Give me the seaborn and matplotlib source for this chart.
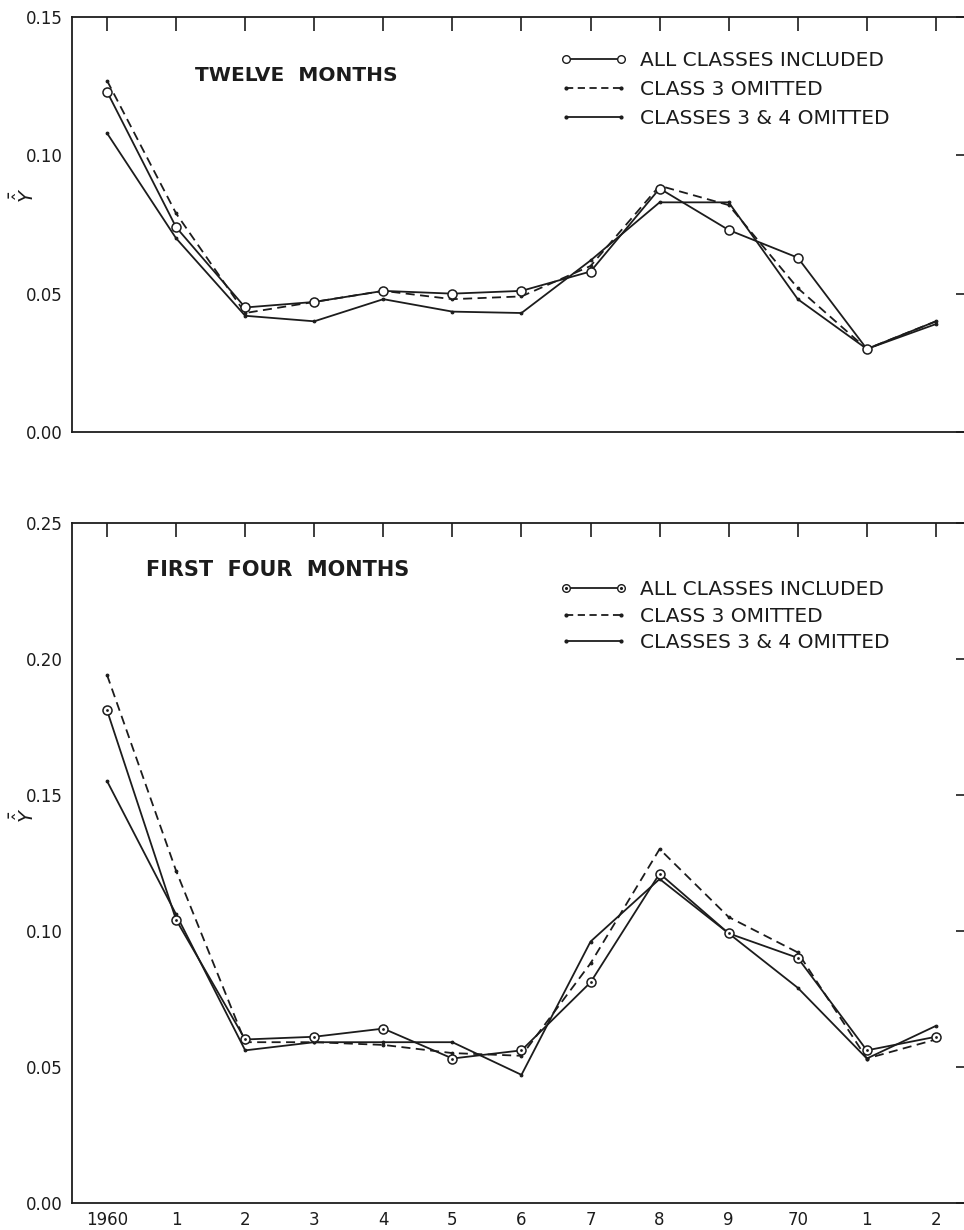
import numpy as np
import pandas as pd
import matplotlib
matplotlib.use("Agg")
import matplotlib.pyplot as plt
import seaborn as sns
from matplotlib.lines import Line2D
from matplotlib.legend_handler import HandlerTuple

# Year labels along the x axis (1960 ... 1972)
year_labels = ["1960", "1", "2", "3", "4", "5", "6", "7", "8", "9", "70", "1", "2"]

# Mean Y-hat, twelve months
twelve_all = [0.123, 0.074, 0.045, 0.047, 0.051, 0.050, 0.051, 0.058, 0.088, 0.073, 0.063, 0.030, 0.040]
twelve_c3 = [0.127, 0.079, 0.043, 0.047, 0.051, 0.048, 0.049, 0.060, 0.089, 0.082, 0.052, 0.030, 0.040]
twelve_c34 = [0.108, 0.070, 0.042, 0.040, 0.048, 0.0435, 0.043, 0.062, 0.083, 0.083, 0.048, 0.030, 0.039]

# Mean Y-hat, first four months
four_all = [0.181, 0.104, 0.060, 0.061, 0.064, 0.053, 0.056, 0.081, 0.121, 0.099, 0.090, 0.056, 0.061]
four_c3 = [0.194, 0.122, 0.059, 0.059, 0.058, 0.055, 0.054, 0.088, 0.130, 0.105, 0.092, 0.053, 0.060]
four_c34 = [0.155, 0.106, 0.056, 0.059, 0.059, 0.059, 0.047, 0.096, 0.119, 0.099, 0.079, 0.053, 0.065]

series_names = ["ALL CLASSES INCLUDED", "CLASS 3 OMITTED", "CLASSES 3 & 4 OMITTED"]

sns.set_style("white")
plt.rcParams["font.family"] = ["DejaVu Sans"]
plt.rcParams["mathtext.fontset"] = "dejavusans"
INK = "#1c1c1c"
LW = 1.3
DASH = (0, (5, 3))

fig = plt.figure(figsize=(9.64, 12.30), dpi=100)
ax_top = fig.add_axes([0.0752, 0.6488, 0.9315, 0.3374])
ax_bot = fig.add_axes([0.0752, 0.0222, 0.9315, 0.5529])


def draw_panel(ax, v_all, v_c3, v_c34, ymax, title, title_xy, title_size,
               legend_xy, label_spacing, dotted_circles, show_xlabels,
               circle_every):
    df = pd.DataFrame({"pos": np.arange(len(year_labels)),
                       "all": v_all, "c3": v_c3, "c34": v_c34})

    sns.lineplot(data=df, x="pos", y="c34", ax=ax, color=INK, lw=LW,
                 marker=".", markersize=4, markeredgecolor=INK, zorder=2)
    sns.lineplot(data=df, x="pos", y="c3", ax=ax, color=INK, lw=LW,
                 linestyle=DASH, marker=".", markersize=4,
                 markeredgecolor=INK, zorder=2)
    sns.lineplot(data=df, x="pos", y="all", ax=ax, color=INK, lw=LW,
                 marker="o", markersize=6.5, markerfacecolor="white",
                 markeredgecolor=INK, markeredgewidth=1.1,
                 markevery=circle_every, zorder=3)
    if dotted_circles:
        sns.scatterplot(data=df, x="pos", y="all", ax=ax, color=INK, s=4,
                        linewidth=0, legend=False, zorder=4)

    ax.set_xlim(-0.5, len(year_labels) - 0.5)
    ax.set_ylim(0, ymax)
    ax.set_xticks(df["pos"])
    ax.set_xticklabels(year_labels if show_xlabels else [])
    yt = np.arange(0, ymax + 1e-9, 0.05)
    ax.set_yticks(yt)
    ax.set_yticklabels([f"{v:.2f}" for v in yt])
    ax.tick_params(direction="in", length=10, width=1.2, top=True, right=True,
                   labelsize=12, colors=INK, pad=7)
    ax.tick_params(axis="x", labelbottom=show_xlabels, pad=6)
    for s in ax.spines.values():
        s.set_color(INK)
        s.set_linewidth(1.3)
        s.set_visible(True)

    ax.set_xlabel("")
    ax.set_ylabel(r"$\bar{\hat{Y}}$", fontsize=14, color=INK, rotation=90)
    ax.yaxis.set_label_coords(-0.038, 0.57)

    ax.text(title_xy[0], title_xy[1], title, transform=ax.transAxes,
            fontsize=title_size, fontweight="bold", color=INK,
            va="center", ha="left")

    h_all_line = Line2D([], [], color=INK, lw=LW, marker="o", markersize=5.5,
                        markerfacecolor="white", markeredgecolor=INK,
                        markeredgewidth=1.0)
    if dotted_circles:
        h_all = (h_all_line, Line2D([], [], color=INK, lw=0, marker=".",
                                    markersize=2.5))
    else:
        h_all = h_all_line
    h_c3 = Line2D([], [], color=INK, lw=LW, linestyle=(0, (4, 2.5)),
                  marker=".", markersize=4)
    h_c34 = Line2D([], [], color=INK, lw=LW, marker=".", markersize=4)
    leg = ax.legend([h_all, h_c3, h_c34], series_names, loc="upper left",
                    bbox_to_anchor=legend_xy, frameon=False, numpoints=2,
                    fontsize=14.5, handlelength=3.3, handletextpad=0.65,
                    labelspacing=label_spacing, borderpad=0, borderaxespad=0,
                    handler_map={tuple: HandlerTuple(ndivide=1, pad=0)})
    for t in leg.get_texts():
        t.set_color(INK)


draw_panel(ax_top, twelve_all, twelve_c3, twelve_c34, 0.15,
           "TWELVE  MONTHS", (0.136, 0.860), 14.5, (0.543, 0.918), 0.5,
           dotted_circles=False, show_xlabels=False,
           circle_every=list(range(len(year_labels) - 1)))
draw_panel(ax_bot, four_all, four_c3, four_c34, 0.25,
           "FIRST  FOUR  MONTHS", (0.082, 0.930), 15, (0.543, 0.915), 0.36,
           dotted_circles=True, show_xlabels=True,
           circle_every=None)

fig.savefig("out.png", dpi=100, facecolor="white")
